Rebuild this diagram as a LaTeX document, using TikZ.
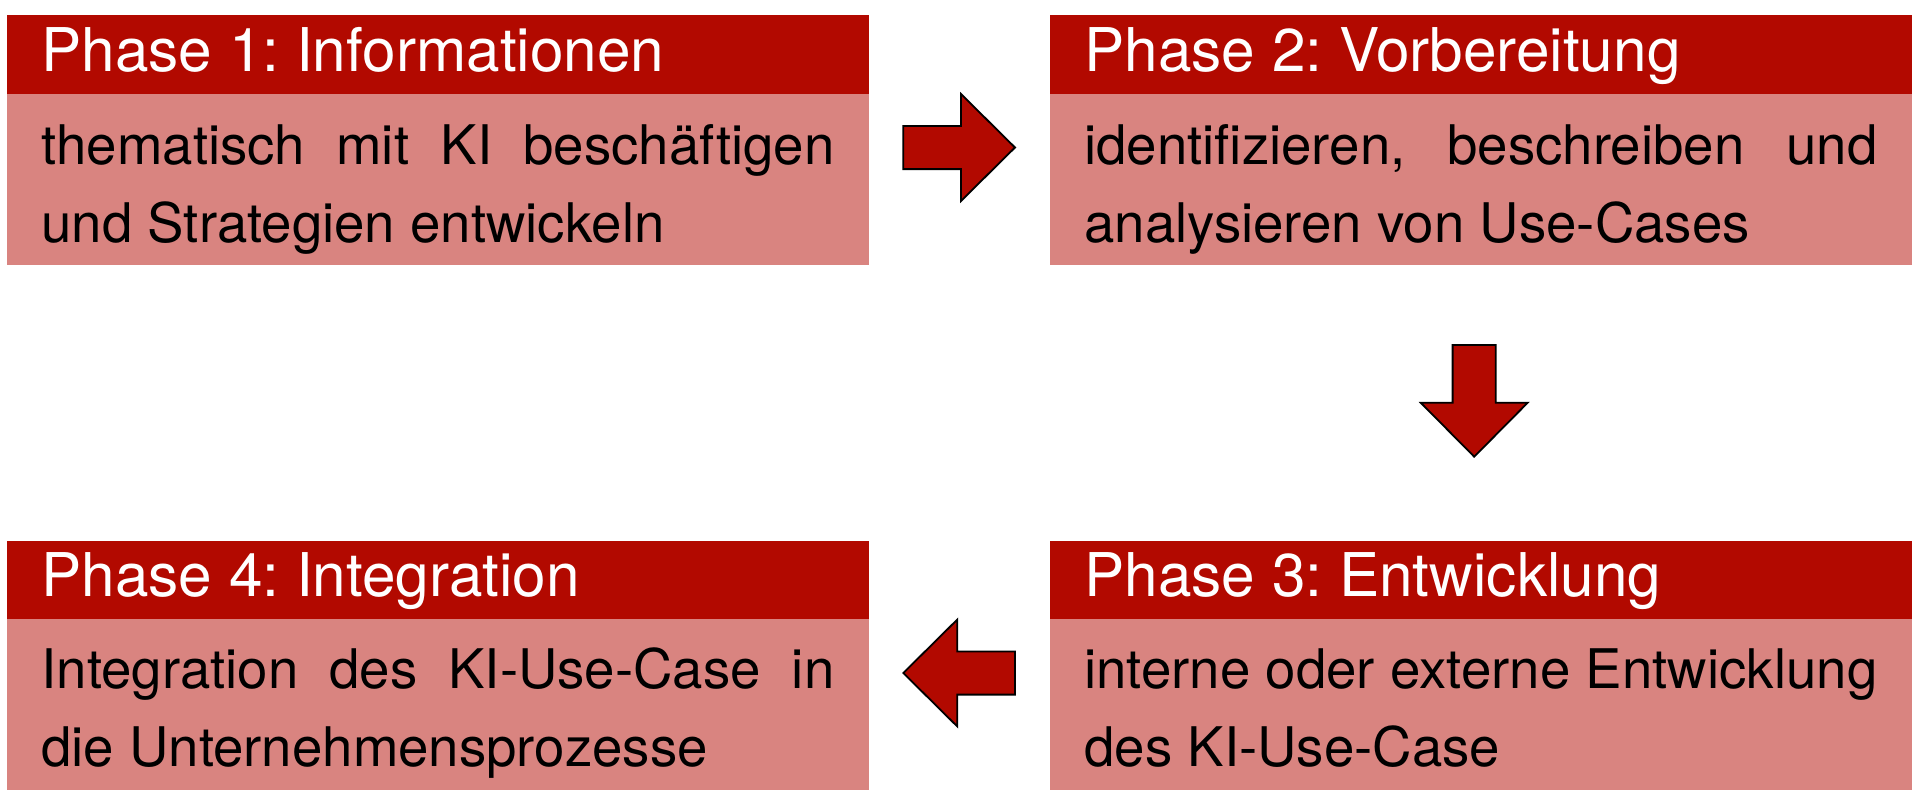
\documentclass[tikz,border=0pt]{standalone}
\usepackage{fontspec}
\setmainfont{TeX Gyre Heros}
\frenchspacing
\definecolor{hdrred}{RGB}{178,9,0}
\definecolor{bodyred}{RGB}{217,132,128}
\newcommand\jline[1]{\makebox[793pt][s]{#1}}
\begin{document}
\begin{tikzpicture}[x=1pt,y=-1pt,
  hdrbox/.style={fill=hdrred,draw=none,anchor=north west,inner sep=0pt,minimum width=861.5pt,minimum height=78.3pt},
  bodybox/.style={fill=bodyred,draw=none,anchor=north west,inner sep=0pt,minimum width=861.5pt,minimum height=171.7pt},
  titletxt/.style={anchor=base west,inner sep=0pt,text=white,font=\fontsize{60.3pt}{72pt}\selectfont},
  linetxt/.style={anchor=base west,inner sep=0pt,text=black,font=\fontsize{54.6pt}{66pt}\selectfont},
  blockarrow/.pic={
    \draw[fill=hdrred,draw=black,line width=1.8pt,line join=miter]
      (0,-21.6) -- (57.7,-21.6) -- (57.7,-53.5) -- (111.7,0) -- (57.7,53.5) -- (57.7,21.6) -- (0,21.6) -- cycle;
  }]
\useasboundingbox (0,0) rectangle (1920,803);

% Phase 1
\node[hdrbox] (h1) at (7,15) {};
\node[bodybox] (b1) at (7,93.3) {};
\node[titletxt] (t1) at (41.2,71) {Phase 1: Informationen};
\node[linetxt] (l1a) at (41.3,164) {\jline{thematisch mit KI beschäftigen}};
\node[linetxt] (l1b) at (41.3,242.5) {und Strategien entwickeln};

% Phase 2
\node[hdrbox] (h2) at (1050,15) {};
\node[bodybox] (b2) at (1050,93.3) {};
\node[titletxt] (t2) at (1084.2,71) {Phase 2: Vorbereitung};
\node[linetxt] (l2a) at (1084.2,164) {\jline{identifizieren, beschreiben und}};
\node[linetxt] (l2b) at (1084.2,242.5) {analysieren von Use-Cases};

% Phase 3
\node[hdrbox] (h3) at (1050,540.7) {};
\node[bodybox] (b3) at (1050,618.3) {};
\node[titletxt] (t3) at (1084.2,596.7) {Phase 3: Entwicklung};
\node[linetxt] (l3a) at (1084.2,688.8) {\jline{interne oder externe Entwicklung}};
\node[linetxt] (l3b) at (1084.2,766.5) {des KI-Use-Case};

% Phase 4
\node[hdrbox] (h4) at (7,540.7) {};
\node[bodybox] (b4) at (7,618.3) {};
\node[titletxt] (t4) at (41.2,596.7) {Phase 4: Integration};
\node[linetxt] (l4a) at (41.3,688.8) {\jline{Integration des KI-Use-Case in}};
\node[linetxt] (l4b) at (41.3,766.5) {die Unternehmensprozesse};

% arrows
\pic at (903.3,147.5) {blockarrow};
\pic[rotate=-90] at (1474.2,345) {blockarrow};
\pic[rotate=180] at (1015,673) {blockarrow};
\end{tikzpicture}
\end{document}
